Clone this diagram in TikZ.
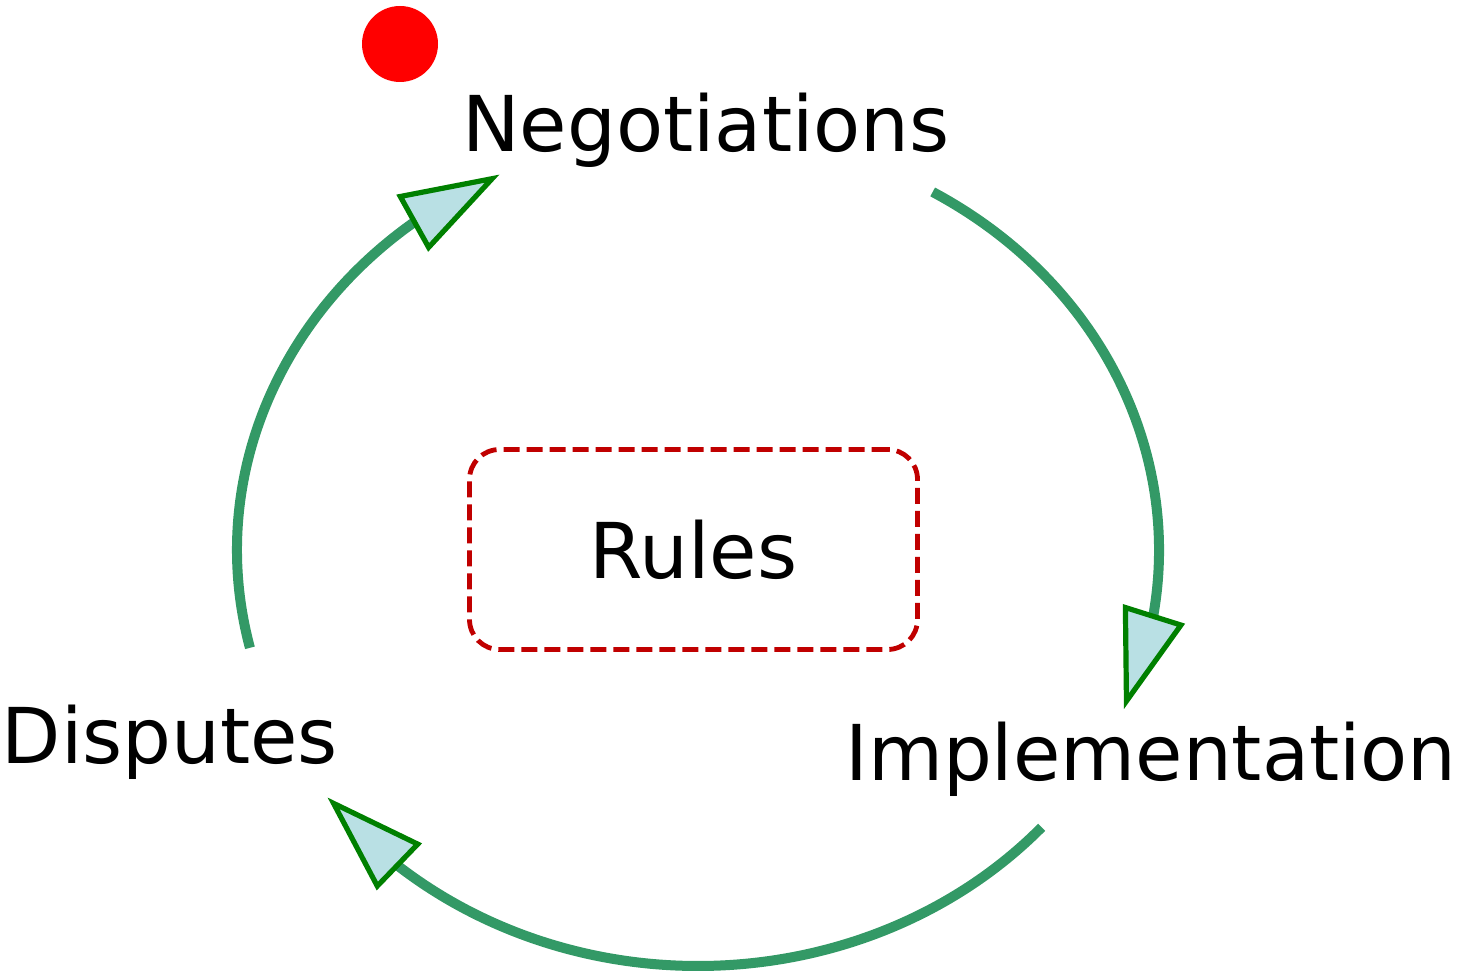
\documentclass[tikz,border=0pt]{standalone}
\usepackage{fontspec}
\setmainfont{DejaVu Sans}
\usetikzlibrary{arrows.meta,bending}
\definecolor{arcgreen}{RGB}{51,153,102}
\definecolor{tipgreen}{RGB}{0,128,0}
\definecolor{tipfill}{RGB}{185,224,228}
\definecolor{rulesred}{RGB}{192,0,0}
\begin{document}
\begin{tikzpicture}%
	[x=0.5pt, y=0.5pt,
	stage/.style={font=\fontsize{38.5}{46}\selectfont, inner sep=0pt, anchor=base},
	cycleedge/.style={color=arcgreen, line width=5pt,
		-{Triangle[length=50pt, width=32pt, flex, color=tipgreen, fill=tipfill, line width=2.6pt]}},
	rulesbox/.style={draw=rulesred, line width=2.4pt, dash pattern=on 8pt off 3.5pt,
		rounded corners=15pt, minimum width=224pt, minimum height=100pt,
		font=\fontsize{38.5}{46}\selectfont},
	marker/.style={circle, fill=red, inner sep=0pt, minimum size=38pt}]
%
\useasboundingbox (0,0) rectangle (1476,-972);
\coordinate (ctr) at (698,-550);
%%
%% Drawing the stages
%%
\node[stage] (neg) at (706,-152) {Negotiations};
\node[stage] (impl) at (1151,-780) {Implementation};
\node[stage] (disp) at (170,-763) {Disputes};
\node[rulesbox] (rules) at (693.5,-549.5) {Rules};
\node[marker] (dot) at (400,-44) {};
%%
%% Drawing the cycle
%%
\path (ctr) ++(193.6:461 and 416) coordinate (dispout);
\path (ctr) ++(59.4:461 and 416) coordinate (negout);
\path (ctr) ++(-41.8:461 and 416) coordinate (implout);
\draw[cycleedge] (dispout) arc[start angle=193.6, end angle=115.5, x radius=461, y radius=416];
\draw[cycleedge] (negout) arc[start angle=59.4, end angle=-22.5, x radius=461, y radius=416];
\draw[cycleedge] (implout) arc[start angle=-41.8, end angle=-143.5, x radius=461, y radius=416];
\end{tikzpicture}
\end{document}
